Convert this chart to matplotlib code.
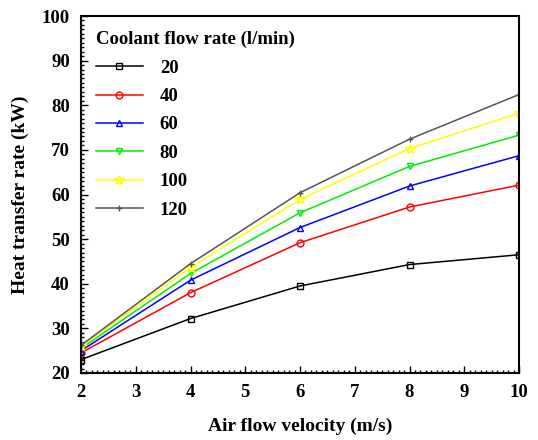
import matplotlib
matplotlib.use("Agg")
import matplotlib.pyplot as plt
from matplotlib.ticker import MultipleLocator

# Air flow velocity (m/s)
velocity = [2, 4, 6, 8, 10]

# Heat transfer rate (kW) for each coolant flow rate (l/min)
q_20 = [23.0, 32.2, 39.5, 44.3, 46.5]
q_40 = [24.5, 38.0, 49.2, 57.2, 62.1]
q_60 = [25.0, 40.8, 52.6, 61.9, 68.7]
q_80 = [25.5, 42.3, 55.9, 66.3, 73.3]
q_100 = [26.0, 43.6, 58.9, 70.3, 78.2]
q_120 = [26.2, 44.5, 60.4, 72.4, 82.4]

labels = ["20", "40", "60", "80", "100", "120"]
series = [q_20, q_40, q_60, q_80, q_100, q_120]
colors = ["black", "red", "blue", "#00ee00", "#ffff00", "#555555"]
markers = ["s", "o", "^", "v", "*", "+"]

plt.rcParams["font.family"] = "Liberation Serif"
plt.rcParams["font.weight"] = "bold"

fig = plt.figure(figsize=(5.38, 4.40), dpi=100)
ax = fig.add_axes([0.1506, 0.1523, 0.8141, 0.8113])

for y, lab, c, m in zip(series, labels, colors, markers):
    ax.plot(velocity, y, color=c, marker=m, markersize=5 if m != "*" else 7,
            markerfacecolor="none", markeredgecolor=c, markeredgewidth=1,
            linewidth=1.1, label=lab)

ax.set_xlim(2, 10)
ax.set_ylim(20, 100)
ax.xaxis.set_major_locator(MultipleLocator(1))
ax.xaxis.set_minor_locator(MultipleLocator(0.1))
ax.yaxis.set_major_locator(MultipleLocator(10))
ax.yaxis.set_minor_locator(MultipleLocator(1))
ax.tick_params(which="both", direction="in", top=False, right=False,
               labelsize=13.5, width=1)
ax.tick_params(which="major", length=5, pad=8)
ax.tick_params(which="minor", length=2.5)
for lbl in ax.get_xticklabels() + ax.get_yticklabels():
    lbl.set_fontweight("bold")
for s in ax.spines.values():
    s.set_linewidth(1.5)

ax.set_xlabel("Air flow velocity (m/s)", fontsize=14, fontweight="bold", labelpad=12)
ax.set_ylabel("Heat transfer rate (kW)", fontsize=14, fontweight="bold", labelpad=9)

leg = ax.legend(title="Coolant flow rate (l/min)", loc="upper left",
                frameon=False, fontsize=13.5, title_fontsize=13.5,
                handlelength=2.5, handletextpad=0.9, labelspacing=0.6,
                borderaxespad=0.4, alignment="left")
leg.get_title().set_fontweight("bold")

fig.savefig("out.png", dpi=100)
